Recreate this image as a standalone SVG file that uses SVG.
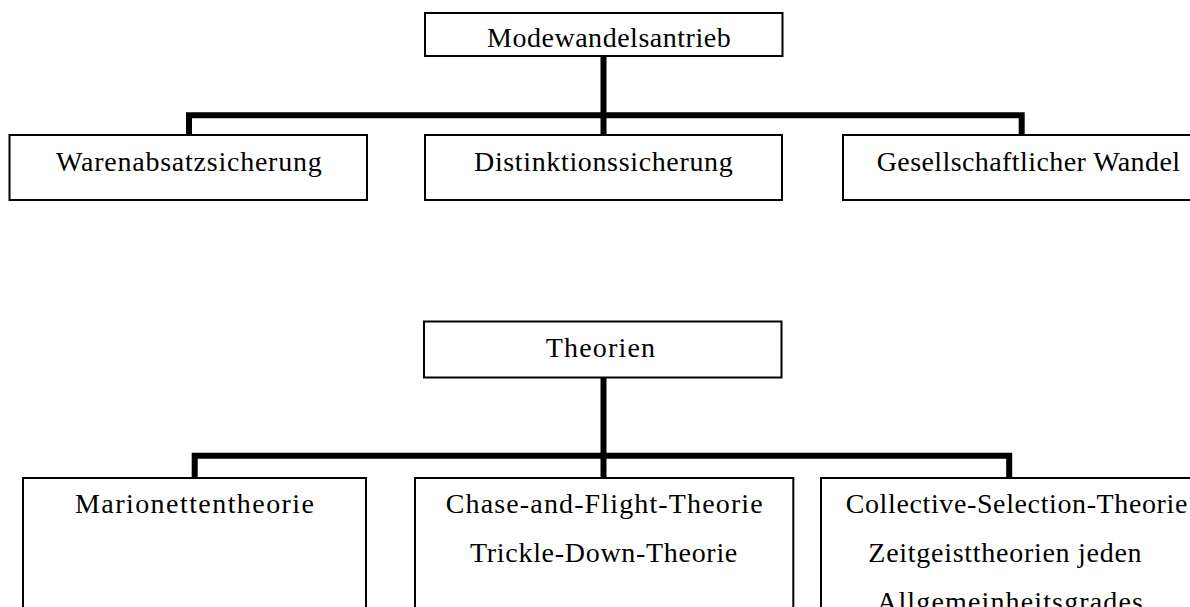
<svg xmlns="http://www.w3.org/2000/svg" width="1190" height="607" viewBox="0 0 1190 607">
<style>
.box{fill:#fff;stroke:#000;stroke-width:2}
.lbl{font-family:"Liberation Serif","Times New Roman",serif;font-size:28px;fill:#000}
.con{fill:none;stroke:#000;stroke-width:6;stroke-linejoin:miter;stroke-linecap:butt}
</style>
<rect width="1190" height="607" fill="#fff"/>
<g id="connectors">
<path class="con" d="M603.5,56 V135"/>
<path class="con" d="M189,135 V115.3 H1021.7 V135"/>
<path class="con" d="M603.5,377.5 V478"/>
<path class="con" d="M194.7,478 V455.7 H1009.2 V478"/>
</g>
<g id="n-modewandelsantrieb">
<rect class="box" x="425" y="13" width="357.5" height="43"/>
<text class="lbl" x="487" y="46.7" textLength="243.7" lengthAdjust="spacing">Modewandelsantrieb</text>
</g>
<g id="n-warenabsatzsicherung">
<rect class="box" x="9.5" y="135" width="357.5" height="65"/>
<text class="lbl" x="56" y="170.7" textLength="265.7" lengthAdjust="spacing">Warenabsatzsicherung</text>
</g>
<g id="n-distinktionssicherung">
<rect class="box" x="425" y="135" width="357" height="65"/>
<text class="lbl" x="474" y="170.7" textLength="258.7" lengthAdjust="spacing">Distinktionssicherung</text>
</g>
<g id="n-gesellschaftlicher-wandel">
<rect class="box" x="843" y="135" width="357" height="65"/>
<text class="lbl" x="876.7" y="170.7" textLength="303.3" lengthAdjust="spacing">Gesellschaftlicher Wandel</text>
</g>
<g id="n-theorien">
<rect class="box" x="424" y="321.5" width="357.5" height="56"/>
<text class="lbl" x="545.7" y="357.3" textLength="109.3" lengthAdjust="spacing">Theorien</text>
</g>
<g id="n-marionettentheorie">
<rect class="box" x="23" y="478" width="343" height="200"/>
<text class="lbl" x="75" y="512.7" textLength="239" lengthAdjust="spacing">Marionettentheorie</text>
</g>
<g id="n-chase-trickle">
<rect class="box" x="415" y="478" width="378.3" height="200"/>
<text class="lbl" x="445.7" y="512.7" textLength="317" lengthAdjust="spacing">Chase-and-Flight-Theorie</text>
<text class="lbl" x="470" y="561.7" textLength="267.3" lengthAdjust="spacing">Trickle-Down-Theorie</text>
</g>
<g id="n-collective-zeitgeist">
<rect class="box" x="821" y="478" width="380" height="200"/>
<text class="lbl" x="845.7" y="512.7" textLength="341.7" lengthAdjust="spacing">Collective-Selection-Theorie</text>
<text class="lbl" x="868.3" y="561.7" textLength="273.3" lengthAdjust="spacing">Zeitgeisttheorien jeden</text>
<text class="lbl" x="877" y="610.7" textLength="266" lengthAdjust="spacing">Allgemeinheitsgrades</text>
</g>
</svg>
